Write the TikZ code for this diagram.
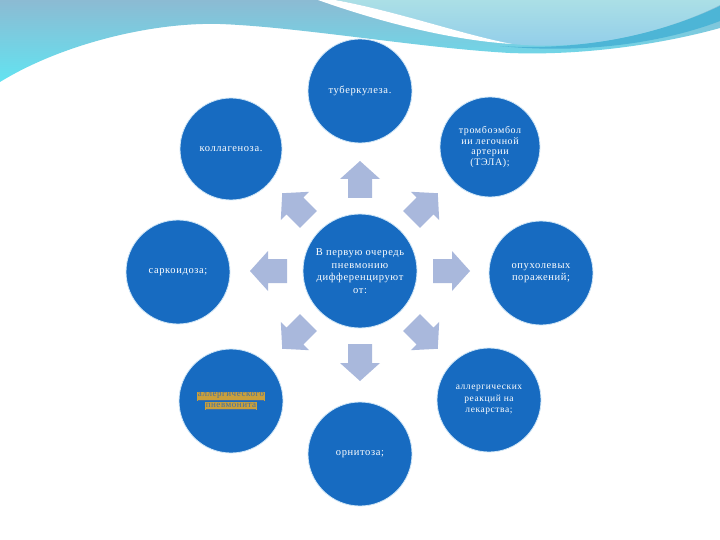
\documentclass[tikz,border=0pt]{standalone}
\usepackage{fontspec}
\setmainfont{Liberation Serif}[LetterSpace=6]
\definecolor{circblue}{HTML}{176BC1}
\definecolor{circedge}{HTML}{CFE6F7}
\definecolor{arrowcol}{HTML}{A9B8DC}
\definecolor{bandtop}{HTML}{8CBBD3}
\definecolor{bandbot}{HTML}{62E3F1}
\definecolor{aquatop}{HTML}{ABDFE6}
\definecolor{aquabot}{HTML}{8FCCEA}
\definecolor{tealline}{HTML}{4DB5D6}
\definecolor{linkgold}{HTML}{C9A03C}
\definecolor{linktext}{HTML}{3F6FA6}
\newcommand{\linkline}[1]{{\setlength{\fboxsep}{0.6pt}\colorbox{linkgold}{\textcolor{linktext}{\underline{#1}}}}}
\begin{document}
\begin{tikzpicture}[x=1pt,y=-1pt,
  bubble/.style={circle, fill=circblue, draw=circedge, line width=0.8pt,
    minimum size=104pt, inner sep=0pt, text=white, align=center,
    font=\fontsize{10.5}{12}\selectfont},
  hub/.style={bubble, minimum size=114pt, font=\fontsize{10.5}{12.5}\selectfont},
  pointer/.style={fill=arrowcol}]
\useasboundingbox (0,0) rectangle (720,540);
\fill[white] (0,0) rectangle (720,540);
% top banner
\shade[top color=bandtop, bottom color=bandbot]
  (0,0) -- (720,0) -- (720,28)
  .. controls (670,42) and (590,56) .. (510,53)
  .. controls (420,48) and (300,27) .. (220,24)
  .. controls (150,22) and (60,45) .. (0,82) -- cycle;
\fill[tealline] (500,46) .. controls (590,52) and (670,30) .. (720,6)
  -- (720,21) .. controls (660,44) and (580,54) .. (500,46) -- cycle;
\shade[top color=aquatop, bottom color=aquabot]
  (335,0) .. controls (400,12) and (460,34) .. (512,44)
  .. controls (590,52) and (670,30) .. (720,5) -- (720,0) -- cycle;
\fill[white] (335,0) .. controls (400,12) and (460,34) .. (512,44)
  .. controls (450,40) and (380,22) .. (318,0) -- cycle;
% nodes
\node[hub] (C) at (360,271) {В первую очередь\\пневмонию\\дифференцируют\\от:};
\node[bubble] (tub) at (360,91) {туберкулеза.};
\node[bubble, minimum size=102pt] (kol) at (231,149) {коллагеноза.};
\node[bubble, minimum size=100pt, font=\fontsize{10}{10.5}\selectfont] (tela) at (490,147) {тромбоэмбол\\ии легочной\\артерии\\(ТЭЛА);};
\node[bubble] (sar) at (178,272) {саркоидоза;};
\node[bubble] (opu) at (541,273) {опухолевых\\поражений;};
\node[bubble, font=\fontsize{9}{11}\selectfont] (pnev) at (231,401) {\linkline{аллергического}\\[-0.5pt]\linkline{пневмонита}};
\node[bubble, font=\fontsize{9.5}{11.5}\selectfont] (alr) at (489,400) {аллергических\\реакций на\\лекарства;};
\node[bubble] (orn) at (360,454) {орнитоза;};
% block arrows around the hub
\foreach \a in {0,45,...,315}{
  \fill[pointer, shift={(C.center)}, rotate=\a]
    (73pt,-12pt) -- (92pt,-12pt) -- (92pt,-20pt) -- (110pt,0pt)
    -- (92pt,20pt) -- (92pt,12pt) -- (73pt,12pt) -- cycle;
}
\end{tikzpicture}
\end{document}
